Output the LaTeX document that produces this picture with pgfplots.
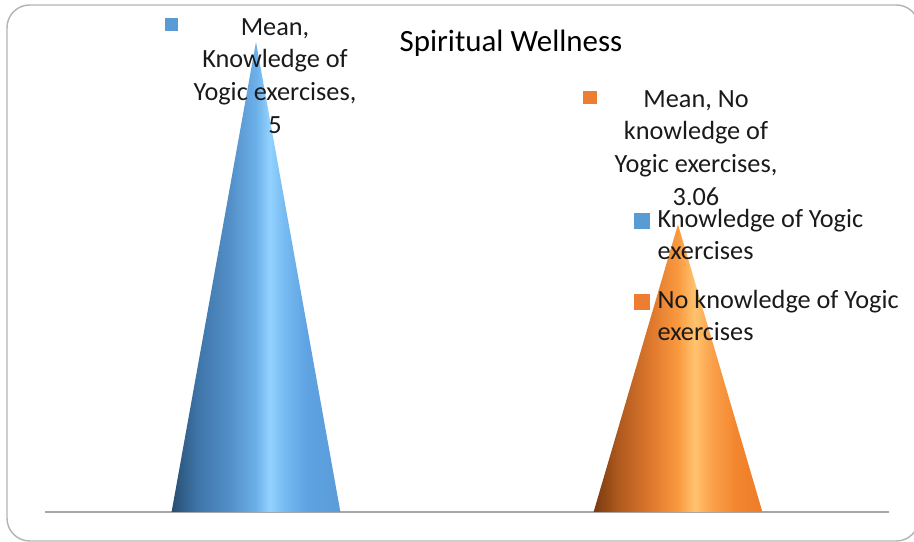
\documentclass[border=0pt]{standalone}
\usepackage{pgfplots}
\pgfplotsset{compat=1.18}
\usepackage{fontspec}
\setmainfont{Carlito}
\definecolor{legblue}{HTML}{5B9BD5}
\definecolor{legorange}{HTML}{ED7D31}
\definecolor{basegray}{HTML}{A6A6A6}
\definecolor{framegray}{HTML}{B4B4B4}
\definecolor{txt}{HTML}{1A1A1A}
\definecolor{b0}{HTML}{274E73}
\definecolor{b1}{HTML}{3E74A8}
\definecolor{b2}{HTML}{5490C8}
\definecolor{b3}{HTML}{6CB0EA}
\definecolor{b4}{HTML}{92D2FF}
\definecolor{b5}{HTML}{78BCF2}
\definecolor{b6}{HTML}{5EA2E2}
\definecolor{b7}{HTML}{5A9CD8}
\definecolor{o0}{HTML}{7A3A10}
\definecolor{o1}{HTML}{B05A1E}
\definecolor{o2}{HTML}{E07A2E}
\definecolor{o3}{HTML}{FA9A40}
\definecolor{o4}{HTML}{FFC36E}
\definecolor{o5}{HTML}{FBA04A}
\definecolor{o6}{HTML}{F2852E}
\definecolor{o7}{HTML}{EE7C2A}
\pgfdeclarehorizontalshading{coneblue}{100bp}{color(0bp)=(b0); color(25bp)=(b0); color(32.5bp)=(b1); color(42.5bp)=(b2); color(50bp)=(b3); color(54bp)=(b4); color(58bp)=(b5); color(65bp)=(b6); color(75bp)=(b7); color(100bp)=(b7)}
\pgfdeclarehorizontalshading{coneorange}{100bp}{color(0bp)=(o0); color(25bp)=(o0); color(32.5bp)=(o1); color(42.5bp)=(o2); color(50bp)=(o3); color(55bp)=(o4); color(60bp)=(o5); color(67.5bp)=(o6); color(75bp)=(o7); color(100bp)=(o7)}
\pgfplotstableread{
x y
-0.2 0
0 5
0.2 0
}\coneA
\pgfplotstableread{
x y
0.8 0
1 3.06
1.2 0
}\coneB
\begin{document}
\begin{tikzpicture}
\begin{axis}[
  scale only axis,
  width=633pt, height=352.5pt,
  xmin=-0.5, xmax=1.5, ymin=0, ymax=5,
  axis x line*=bottom,
  hide y axis,
  x axis line style={basegray, line width=2.2pt},
  xtick=\empty, ytick=\empty,
  clip=false,
  legend style={at={(0.698,0.6495)}, anchor=north west, draw=none, fill=none,
    font=\fontsize{19.7}{23.5}\selectfont, text=txt, inner sep=0pt, row sep=18pt,
    column sep=0pt,
    cells={anchor=base west, align=left}},
  legend image code/.code={\fill[#1] (0pt,23.5pt) rectangle (11pt,34.5pt);},
]
\addplot[draw=none, shading=coneblue, forget plot] table {\coneA} \closedcycle;
\addplot[draw=none, shading=coneorange, forget plot] table {\coneB} \closedcycle;
\addlegendimage{legblue}
\addlegendentry{\hspace{4pt}Knowledge of Yogic\\\hspace{4pt}exercises}
\addlegendimage{legorange}
\addlegendentry{\hspace{4pt}No knowledge of Yogic\\\hspace{4pt}exercises}
\end{axis}
\begin{scope}[shift={(-33.75pt,384pt)}, x=0.75pt, y=-0.75pt]
\useasboundingbox (0,0) rectangle (914,542);
\draw[framegray, line width=1.1pt, rounded corners=17pt] (7,5) rectangle (919,541);
\node[anchor=base, font=\fontsize{23.2}{27}\selectfont, text=black, inner sep=0pt] at (511,52) {Spiritual Wellness};
\fill[legblue] (165,18) rectangle (178,31);
\node[anchor=north, align=center, font=\fontsize{19.7}{24.5}\selectfont, text=txt, inner sep=0pt] at (275,18) {Mean,\\Knowledge of\\Yogic exercises,\\5};
\fill[legorange] (583,91) rectangle (597,104);
\node[anchor=north, align=center, font=\fontsize{19.7}{24.5}\selectfont, text=txt, inner sep=0pt] at (696,90) {Mean, No\\knowledge of\\Yogic exercises,\\3.06};
\end{scope}
\end{tikzpicture}
\end{document}
